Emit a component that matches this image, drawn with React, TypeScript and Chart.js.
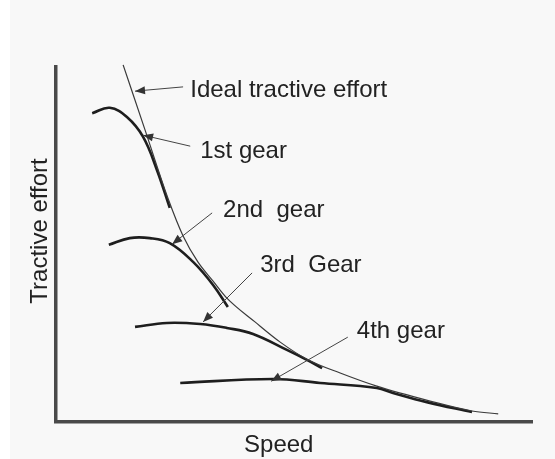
import React, { useEffect, useRef } from "react";
import { Chart, registerables } from "chart.js";

Chart.register(...registerables);

// Speed (arbitrary units 0-100) and tractive effort (arbitrary units 0-100)
const idealSpeed = [14.1, 18.7, 23.5, 26.7, 29.8, 33.0, 35.9, 41.8, 47.1, 52.7, 59.7, 67.4, 78.6, 87.4, 92.9];
const idealEffort = [100.6, 82.3, 63.1, 52.4, 45.1, 39.7, 34.9, 28.2, 22.5, 17.7, 13.8, 10.1, 5.9, 3.1, 2.3];

const gear1Speed = [7.6, 11.3, 14.9, 18.3, 21.2, 23.9];
const gear1Effort = [87.0, 88.5, 85.9, 80.3, 71.0, 60.3];

const gear2Speed = [11.1, 15.5, 19.7, 23.9, 28.8, 33.0, 36.1];
const gear2Effort = [49.9, 51.8, 51.8, 50.4, 45.1, 38.6, 32.4];

const gear3Speed = [16.6, 23.3, 30.3, 35.9, 41.4, 48.5, 52.7, 55.9];
const gear3Effort = [26.8, 27.9, 27.6, 26.5, 24.8, 20.3, 17.5, 15.2];

const gear4Speed = [26.1, 45.6, 55.5, 67.4, 70.8, 77.9, 87.4];
const gear4Effort = [11.0, 12.1, 11.0, 9.6, 8.2, 5.6, 2.8];

const labels = ["Ideal tractive effort", "1st gear", "2nd  gear", "3rd  Gear", "4th gear"];
const xTitle = "Speed";
const yTitle = "Tractive effort";

const toPts = (xs: number[], ys: number[]) => xs.map((x, i) => ({ x, y: ys[i] }));

// annotation geometry in data units: text left/baseline, arrow start, arrow tip
const notes = [
  { tx: 28.2, ty: 91.5, fx: 26.7, fy: 94.4, px: 16.6, py: 93.2 },
  { tx: 30.3, ty: 74.4, fx: 28.2, fy: 77.7, px: 18.3, py: 80.8 },
  { tx: 35.1, ty: 57.7, fx: 32.8, fy: 58.9, px: 24.4, py: 50.1 },
  { tx: 42.9, ty: 42.3, fx: 41.2, fy: 42.0, px: 30.9, py: 28.2 },
  { tx: 63.2, ty: 23.7, fx: 61.3, fy: 23.9, px: 45.2, py: 11.5 },
];

const FONT = "24px 'Liberation Sans', Arial, sans-serif";
const INK = "#222222";

const annotPlugin = {
  id: "annot",
  afterDatasetsDraw(chart: any) {
    const { ctx, scales } = chart;
    const X = (v: number) => scales.x.getPixelForValue(v);
    const Y = (v: number) => scales.y.getPixelForValue(v);
    ctx.save();
    ctx.font = FONT;
    ctx.textBaseline = "alphabetic";
    ctx.textAlign = "left";
    notes.forEach((n, i) => {
      ctx.fillStyle = INK;
      ctx.fillText(labels[i], X(n.tx), Y(n.ty));
      const x1 = X(n.fx), y1 = Y(n.fy), x2 = X(n.px), y2 = Y(n.py);
      ctx.strokeStyle = "#444";
      ctx.lineWidth = 1;
      ctx.beginPath();
      ctx.moveTo(x1, y1);
      ctx.lineTo(x2, y2);
      ctx.stroke();
      const a = Math.atan2(y2 - y1, x2 - x1);
      const L = 10, W = 4;
      ctx.fillStyle = "#333";
      ctx.beginPath();
      ctx.moveTo(x2, y2);
      ctx.lineTo(x2 - L * Math.cos(a) + W * Math.sin(a), y2 - L * Math.sin(a) - W * Math.cos(a));
      ctx.lineTo(x2 - L * Math.cos(a) - W * Math.sin(a), y2 - L * Math.sin(a) + W * Math.cos(a));
      ctx.closePath();
      ctx.fill();
    });
    // axis titles
    ctx.fillStyle = INK;
    ctx.textAlign = "center";
    ctx.fillText(xTitle, X(46.8), Y(-8.5));
    ctx.translate(X(-1.9), Y(53.8));
    ctx.rotate(-Math.PI / 2);
    ctx.fillText(yTitle, 0, 0);
    ctx.restore();
  },
};

const bgPlugin = {
  id: "bg",
  beforeDraw(chart: any) {
    const { ctx, width, height } = chart;
    ctx.save();
    ctx.fillStyle = "#ffffff";
    ctx.fillRect(0, 0, width, height);
    ctx.fillStyle = "#f8f8f8";
    ctx.fillRect(10, 0, width - 10, height);
    ctx.restore();
  },
};

export default function App() {
  const ref = useRef<HTMLCanvasElement>(null);
  useEffect(() => {
    if (!ref.current) return;
    const gearStyle = { borderColor: "#1e1e1e", borderWidth: 2.6, pointRadius: 0, showLine: true, tension: 0.4, clip: false as any, fill: false };
    const chart = new Chart(ref.current, {
      type: "scatter",
      data: {
        datasets: [
          { label: labels[0], data: toPts(idealSpeed, idealEffort), borderColor: "#3a3a3a", borderWidth: 1.2, pointRadius: 0, showLine: true, cubicInterpolationMode: "monotone", clip: false as any },
          { label: labels[1], data: toPts(gear1Speed, gear1Effort), ...gearStyle },
          { label: labels[2], data: toPts(gear2Speed, gear2Effort), ...gearStyle },
          { label: labels[3], data: toPts(gear3Speed, gear3Effort), ...gearStyle },
          { label: labels[4], data: toPts(gear4Speed, gear4Effort), ...gearStyle },
        ],
      },
      options: {
        animation: false,
        responsive: false,
        layout: { padding: { left: 56, top: 67, right: 23, bottom: 37 } },
        plugins: { legend: { display: false }, tooltip: { enabled: false } },
        scales: {
          x: {
            type: "linear", min: 0, max: 100,
            ticks: { display: false }, grid: { display: false, drawTicks: false },
            border: { display: true, color: "#4a4a4a", width: 3.5 },
            afterFit: (s: any) => { s.height = 0; },
          },
          y: {
            type: "linear", min: 0, max: 100,
            ticks: { display: false }, grid: { display: false, drawTicks: false },
            border: { display: true, color: "#4a4a4a", width: 3.5 },
            afterFit: (s: any) => { s.width = 0; },
          },
        },
      },
      plugins: [bgPlugin, annotPlugin],
    });
    return () => chart.destroy();
  }, []);
  return (
    <div style={{ position: "absolute", left: 0, top: 0, width: 555, height: 459 }}>
      <canvas ref={ref} width={555} height={459} style={{ width: 555, height: 459, display: "block" }} />
    </div>
  );
}
